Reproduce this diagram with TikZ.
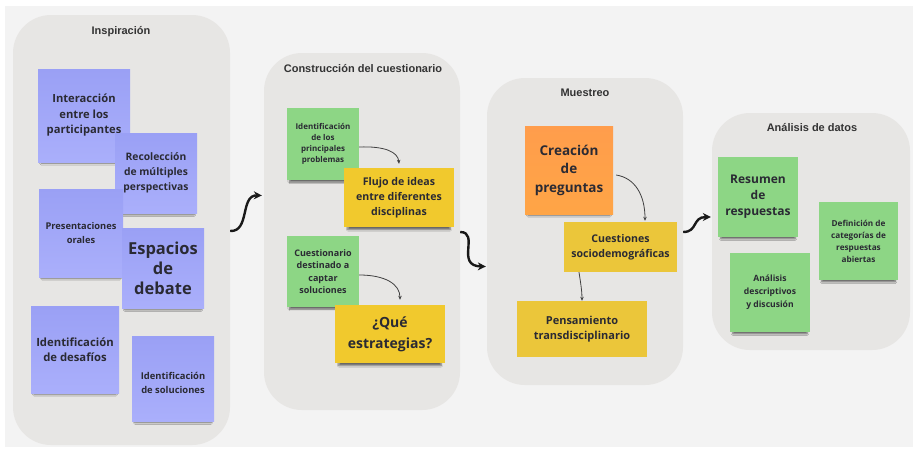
\documentclass[tikz,border=0pt]{standalone}
\usepackage{fontspec}
\newfontfamily\notefont{Open Sans}
\newfontfamily\titlefont{Liberation Sans}
\usetikzlibrary{shadows.blur,arrows.meta,calc}
\definecolor{bgc}{HTML}{F3F3F3}
\definecolor{panelc}{HTML}{E7E6E4}
\definecolor{bluetop}{HTML}{9AA0F5}
\definecolor{bluebot}{HTML}{AAAFFB}
\definecolor{greenc}{HTML}{8DD685}
\definecolor{yellowc}{HTML}{F1C92D}
\definecolor{yellowd}{HTML}{EBC63A}
\definecolor{orangec}{HTML}{FF9D4C}
\definecolor{notetext}{HTML}{2A2A33}
\definecolor{titletext}{HTML}{333333}
\begin{document}
\begin{tikzpicture}[x=1pt,y=-1pt,
  panel/.style={rectangle, rounded corners=38pt, fill=panelc, draw=none},
  ptitle/.style={font=\titlefont\bfseries\fontsize{11}{13}\selectfont, text=titletext},
  plain/.style={rectangle, draw=none, inner sep=0pt, align=center, text=notetext},
  note/.style={plain,
    blur shadow={shadow xshift=0pt, shadow yshift=-5pt, shadow scale=0.93, shadow opacity=55, shadow blur steps=6}},
  bluenote/.style={note, top color=bluetop, bottom color=bluebot},
  greennote/.style={note, fill=greenc},
  fs/.style 2 args={font=\notefont\bfseries\fontsize{#1}{#2}\selectfont},
  bigarrow/.style={line width=2.4pt, -{Stealth[length=8pt,width=8pt]}, black!90},
  smallarrow/.style={line width=0.8pt, -{Stealth[length=4pt,width=3.5pt]}, black!75},
]
\useasboundingbox (0,0) rectangle (913,450);
\fill[white] (0,0) rectangle (913,450);
\fill[bgc] (5,6) rectangle (913,447);

% panels
\node[panel, minimum width=217pt, minimum height=430pt] (p1) at (121.5,230) {};
\node[panel, minimum width=196pt, minimum height=357pt] (p2) at (362,231.5) {};
\node[panel, minimum width=196pt, minimum height=307pt] (p3) at (585,231.5) {};
\node[panel, minimum width=198pt, minimum height=237pt] (p4) at (811,231.5) {};

\node[ptitle] (t1) at (121,32) {Inspiración};
\node[ptitle] (t2) at (363,69) {Construcción del cuestionario};
\node[ptitle] (t3) at (585,93) {Muestreo};
\node[ptitle] (t4) at (812,128) {Análisis de datos};

% Inspiración notes
\node[bluenote, minimum width=92pt, minimum height=93pt, fs={11.2}{15.5}] (n1) at (84,115.5) {Interacción\\entre los\\participantes};
\node[bluenote, minimum width=82pt, minimum height=80pt, fs={10.3}{15}] (n2) at (156,173) {Recolección\\de múltiples\\perspectivas};
\node[bluenote, minimum width=84pt, minimum height=88pt, fs={9.3}{14}] (n3) at (81,233) {Presentaciones\\orales};
\node[bluenote, minimum width=82pt, minimum height=80pt, fs={16.5}{20}] (n4) at (163,268) {Espacios\\de\\debate};
\node[bluenote, minimum width=88pt, minimum height=87pt, fs={11.3}{15}] (n5) at (75,349.5) {Identificación\\de desafíos};
\node[bluenote, minimum width=82pt, minimum height=85pt] (n6) at (173,378.5) {};
\node[plain, fs={9.4}{13.5}] (n6t) at (173,383) {Identificación\\de soluciones};

% Construcción notes
\node[greennote, minimum width=72pt, minimum height=72pt, fs={8}{11}] (g1) at (323,144) {Identificación\\de los\\principales\\problemas};
\node[note, fill=yellowc, minimum width=110pt, minimum height=59pt, fs={10.6}{15}] (y1) at (399,197.5) {Flujo de ideas\\entre diferentes\\disciplinas};
\node[greennote, minimum width=72pt, minimum height=71pt, fs={9}{12.5}] (g2) at (323,271.5) {Cuestionario\\destinado a\\captar\\soluciones};
\node[note, fill=yellowc, minimum width=110pt, minimum height=58pt, fs={14}{21}] (y2) at (390,334) {¿Qué\\estrategias?};

\draw[smallarrow] ([yshift=-3pt]g1.east) .. controls (385,146) and (398,152) .. ([yshift=4pt]y1.north);
\draw[smallarrow] ([yshift=-3.5pt]g2.east) .. controls (385,275) and (400,284) .. ([xshift=10pt,yshift=5pt]y2.north);

% Muestreo notes
\node[note, top color=orangec, bottom color=orangec!92!yellow, minimum width=88pt, minimum height=88pt, fs={13.5}{18.5}] (o1) at (569,170) {Creación\\de\\preguntas};
\node[plain, fill=yellowd, minimum width=113pt, minimum height=50pt, fs={10.6}{15}] (cs) at (620.5,247) {Cuestiones\\sociodemográficas};
\node[plain, fill=yellowd, minimum width=130pt, minimum height=56pt, fs={11}{15}] (pt) at (582,329) {Pensamiento\\transdisciplinario};

\draw[smallarrow] ([xshift=3pt,yshift=-5pt]o1.east) .. controls (635,178) and (645,195) .. ([xshift=24.5pt,yshift=1pt]cs.north);
\draw[smallarrow] ([xshift=-41.5pt]cs.south) .. controls (581,285) and (582,292) .. (pt.north);

% Análisis notes
\node[greennote, minimum width=80pt, minimum height=80pt, fs={12}{16}] (r1) at (758,197) {Resumen\\de\\respuestas};
\node[greennote, minimum width=79pt, minimum height=78pt, fs={8.2}{12}] (d1) at (858.5,241) {Definición de\\categorías de\\respuestas\\abiertas};
\node[greennote, minimum width=80pt, minimum height=79pt, fs={8.6}{13}] (a1) at (770,292.5) {Análisis\\descriptivos\\y discusión};

% big arrows
\draw[bigarrow] ([yshift=-1pt]p1.east) .. controls (250,232) and (240,195) .. ([xshift=-2pt,yshift=36pt]p2.west);
\draw[bigarrow] ([yshift=-0.5pt]p2.east) .. controls (480,232) and (455,266) .. ([xshift=-1pt,yshift=-35pt]p3.west);
\draw[bigarrow] ([yshift=-0.5pt]p3.east) .. controls (698,232) and (692,217) .. ([xshift=-1pt,yshift=14.5pt]p4.west);
\end{tikzpicture}
\end{document}
